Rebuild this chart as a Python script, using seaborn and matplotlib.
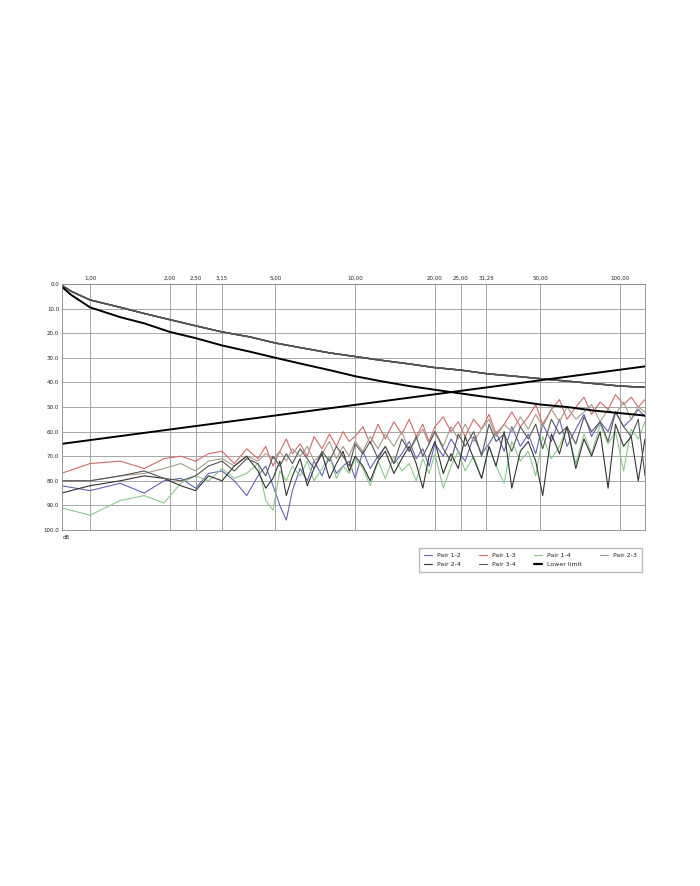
import numpy as np
import matplotlib
matplotlib.use("Agg")
import matplotlib.pyplot as plt
from matplotlib.lines import Line2D
import seaborn as sns

sns.set_style("white")
plt.rcParams["font.family"] = ["DejaVu Sans"]

freq = [0.78, 1.0, 1.3, 1.6, 1.9, 2.2, 2.5, 2.8,
        3.15, 3.5, 3.9, 4.3, 4.6, 4.9, 5.2, 5.5,
        5.8, 6.2, 6.6, 7.0, 7.5, 8.0, 8.5, 9.0,
        9.5, 10, 10.7, 11.4, 12.2, 13, 14, 15,
        16, 17, 18, 19, 20, 21.5, 23, 24.5,
        26, 28, 30, 32, 34, 36.5, 39, 42,
        45, 48, 51, 55, 59, 63, 68, 73,
        78, 84, 90, 96, 103, 110, 117, 124]

pair_12 = [82, 84, 81, 85, 80, 79, 83, 77, 76, 80, 86, 78, 74, 82, 90, 96,
           84, 75, 80, 72, 78, 70, 77, 74, 72, 79, 68, 75, 70, 66, 73, 69,
           64, 71, 67, 74, 65, 70, 63, 68, 72, 62, 69, 65, 60, 68, 58, 66,
           61, 69, 57, 64, 55, 66, 59, 53, 62, 56, 60, 52, 58, 55, 51, 54]
pair_13 = [77, 73, 72, 75, 71, 70, 72, 69, 68, 73, 67, 71, 66, 74, 68, 63,
           69, 65, 70, 62, 67, 61, 66, 60, 64, 62, 58, 65, 57, 63, 56, 61,
           55, 62, 57, 64, 58, 54, 60, 56, 62, 55, 59, 53, 61, 57, 52, 58,
           54, 49, 57, 51, 47, 55, 50, 46, 53, 48, 51, 45, 49, 46, 50, 47]
pair_14 = [91, 94, 88, 86, 89, 81, 78, 80, 75, 79, 77, 73, 88, 92, 76, 80,
           74, 78, 72, 80, 75, 70, 79, 74, 77, 71, 75, 82, 72, 79, 70, 76,
           73, 80, 71, 77, 69, 83, 74, 68, 76, 70, 79, 66, 74, 81, 64, 72,
           68, 78, 62, 71, 66, 58, 73, 61, 69, 57, 65, 60, 76, 59, 63, 56]
pair_23 = [80, 80, 78, 77, 75, 73, 76, 72, 71, 74, 70, 72, 69, 71, 68, 72,
           67, 70, 66, 72, 69, 64, 71, 66, 70, 64, 68, 62, 67, 61, 66, 60,
           68, 63, 59, 65, 60, 66, 58, 63, 57, 64, 59, 55, 62, 57, 60, 54,
           59, 53, 58, 51, 56, 50, 55, 52, 49, 56, 51, 53, 48, 55, 50, 52]
pair_24 = [85, 82, 80, 78, 79, 82, 84, 78, 80, 74, 70, 76, 83, 79, 72, 86,
           78, 71, 82, 75, 69, 79, 73, 68, 76, 70, 74, 80, 72, 68, 77, 71,
           66, 73, 83, 70, 64, 77, 69, 75, 62, 71, 79, 66, 74, 60, 83, 68,
           64, 72, 86, 61, 69, 58, 75, 63, 70, 60, 83, 57, 66, 62, 80, 63]
pair_34 = [80, 80, 78, 76, 79, 80, 78, 74, 72, 76, 71, 73, 78, 70, 74, 69,
           73, 67, 71, 75, 68, 72, 66, 70, 74, 65, 69, 64, 71, 66, 73, 63,
           68, 62, 70, 65, 60, 67, 72, 61, 66, 60, 70, 57, 64, 61, 68, 58,
           63, 57, 67, 55, 61, 58, 65, 54, 60, 56, 64, 52, 58, 62, 55, 78]

# smooth curves (insertion loss of pairs and its limit)
il_freq = [0.78, 0.85, 1, 1.3, 1.6, 2, 2.5, 3.15, 4, 5, 6.3, 8, 10, 12.5,
           16, 20, 25, 31.5, 40, 50, 63, 80, 100, 124]
il_pairs = [0.5, 3, 6.5, 9.5, 12, 14.5, 17, 19.5, 21.5, 24, 26, 28, 29.5, 31,
            32.5, 34, 35, 36.5, 37.5, 38.5, 39.5, 40.5, 41.5, 42]
il_limit = [1, 4.5, 9.5, 13.5, 16, 19.5, 22, 25, 27.5, 30, 32.5, 35, 37.5,
            39.5, 41.5, 43, 44.5, 46, 47.5, 49, 50, 51.5, 52.5, 53.5]
next_limit_freq = [0.78, 124]
next_limit = [65, 33.5]

tick_freqs = [1, 2, 2.5, 3.15, 5, 10, 20, 25, 31.25, 50, 100]
tick_labels = ["1,00", "2,00", "2,50", "3,15", "5,00", "10,00", "20,00",
               "25,00", "31,25", "50,00", "100,00"]

series = [("Pair 1-2", pair_12, "#6464b4"), ("Pair 1-3", pair_13, "#d06a6a"),
          ("Pair 1-4", pair_14, "#8cc88c"), ("Pair 2-3", pair_23, "#a89a88"),
          ("Pair 2-4", pair_24, "#333333"), ("Pair 3-4", pair_34, "#555555")]

fig = plt.figure(figsize=(7, 8.86), dpi=100)
ax = fig.add_axes([0.0886, 0.4018, 0.8328, 0.2777])

for name, vals, col in series:
    sns.lineplot(x=il_freq, y=il_pairs, ax=ax, color=col, lw=1.0)
for name, vals, col in series:
    sns.lineplot(x=freq, y=vals, ax=ax, color=col, lw=0.8)
sns.lineplot(x=il_freq, y=il_limit, ax=ax, color="black", lw=1.4)
sns.lineplot(x=next_limit_freq, y=next_limit, ax=ax, color="black", lw=1.4)

ax.set_xscale("log")
ax.set_xlim(0.784, 124)
ax.set_ylim(100, 0)
ax.set_yticks(np.arange(0, 101, 10))
ax.set_yticklabels([f"{v:.1f}" for v in range(0, 101, 10)], fontsize=4)
ax.xaxis.tick_top()
ax.set_xticks(tick_freqs)
ax.set_xticklabels(tick_labels, fontsize=4)
ax.minorticks_off()
ax.tick_params(length=0, pad=2)
ax.grid(True, color="#999999", lw=0.6)
for s in ax.spines.values():
    s.set_color("#888888")
    s.set_linewidth(0.6)
ax.set_xlabel("")
ax.set_ylabel("")
fig.text(0.09, 0.396, "dB", fontsize=4, va="top")

# legend reads row by row in the reference
entries = [(n, c, 0.8) for n, _, c in series] + [("Lower limit", "black", 1.6)]
order = [0, 4, 1, 5, 2, 6, 3]
handles = [Line2D([], [], color=entries[i][1], lw=entries[i][2]) for i in order]
labels = [entries[i][0] for i in order]
ax.legend(handles, labels, ncol=4, fontsize=4.5, loc="upper right",
          bbox_to_anchor=(1.0, -0.06), frameon=True, fancybox=False,
          edgecolor="#aaaaaa", handlelength=1.2, columnspacing=3, borderpad=0.8)

fig.savefig("out.png", dpi=100, facecolor="white")
